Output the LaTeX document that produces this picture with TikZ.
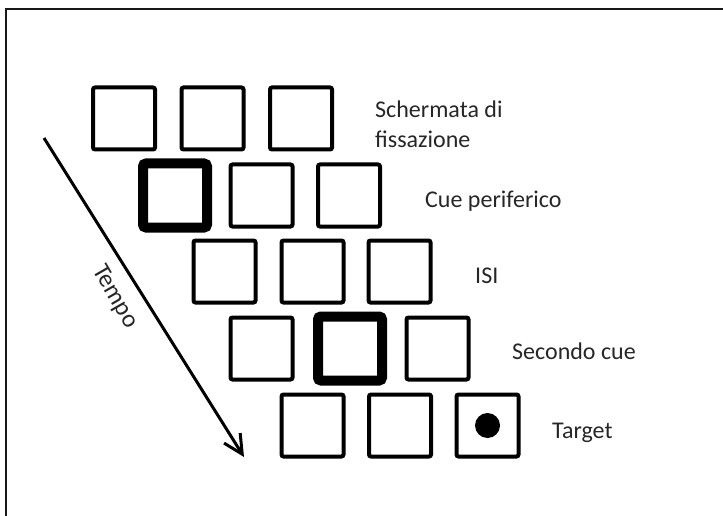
\documentclass[tikz,border=0pt]{standalone}
\usepackage{fontspec}
\setmainfont{Carlito}
\usetikzlibrary{arrows.meta}
\begin{document}
\begin{tikzpicture}[x=1pt,y=-1pt,
  screen/.style={draw=black,line width=4pt,rounded corners=2pt,inner sep=0pt,minimum size=62pt},
  cuebox/.style={draw=black,line width=10pt,rounded corners=3pt,inner sep=0pt,minimum size=64pt},
  label/.style={anchor=base west,inner sep=0pt,font=\fontsize{24}{30}\selectfont,text=black!85},
  dot/.style={circle,fill=black,inner sep=0pt,minimum size=25pt},
  frameline/.style={draw=black!90,line width=2pt}]
\useasboundingbox (0,0) rectangle (723,516);
% outer frame (top and left edges only)
\draw[frameline] (6,516) -- (6,9) -- (723,9);

% row 1: fixation screen
\node[screen] (r1a) at (124,118.5) {};
\node[screen] (r1b) at (212.5,118.5) {};
\node[screen] (r1c) at (301,118.5) {};
% row 2: peripheral cue
\node[cuebox] (r2a) at (175,195.5) {};
\node[screen] (r2b) at (261.5,195.5) {};
\node[screen] (r2c) at (349,195.5) {};
% row 3: ISI
\node[screen] (r3a) at (224.5,271.5) {};
\node[screen] (r3b) at (312.5,271.5) {};
\node[screen] (r3c) at (399.5,271.5) {};
% row 4: second cue
\node[screen] (r4a) at (261.5,348.5) {};
\node[cuebox] (r4b) at (350,348.5) {};
\node[screen] (r4c) at (437.5,348.5) {};
% row 5: target
\node[screen] (r5a) at (312.5,425.5) {};
\node[screen] (r5b) at (400,425.5) {};
\node[screen] (r5c) at (487.5,425.5) {};
\node[dot] (tgt) at (r5c.center) {};

% labels (the two-line label is anchored on its last baseline)
\node[label,align=left] (l1) at (375,148) {Schermata di\\fissazione};
\node[label] (l2) at (425,207) {Cue periferico};
\node[label] (l3) at (475,283) {ISI};
\node[label] (l4) at (512,359) {Secondo cue};
\node[label] (l5) at (552,438) {Target};

% time arrow
\coordinate (tstart) at (44,138);
\coordinate (tend) at (244,457);
\draw[line width=3pt,-{Straight Barb[length=19pt,width=19pt,line width=3pt]}] (tstart) -- (tend);
\node[font=\fontsize{25}{30}\selectfont,text=black!85,rotate=-60,inner sep=0pt] (tempo) at (115,297) {Tempo};
\end{tikzpicture}
\end{document}
